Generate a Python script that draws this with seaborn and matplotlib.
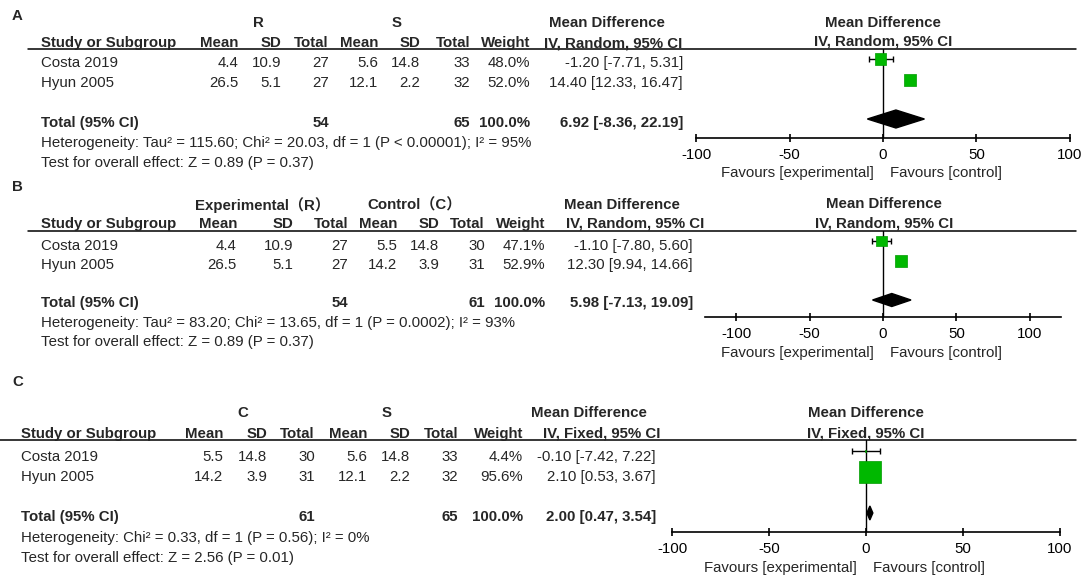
import matplotlib
matplotlib.use("Agg")
import matplotlib.pyplot as plt
import seaborn as sns

# ---- data ----
studies = ["Costa 2019", "Hyun 2005"]

# A: R vs S, random effects
a_groups = ["R", "S"]
a_exp_mean = [4.4, 26.5]
a_exp_sd = [10.9, 5.1]
a_exp_n = [27, 27]
a_ctl_mean = [5.6, 12.1]
a_ctl_sd = [14.8, 2.2]
a_ctl_n = [33, 32]
a_weight = [48.0, 52.0]
a_md = [-1.20, 14.40]
a_lo = [-7.71, 12.33]
a_hi = [5.31, 16.47]
a_total = [6.92, -8.36, 22.19]
a_method = "IV, Random, 95% CI"
a_het = "Heterogeneity: Tau² = 115.60; Chi² = 20.03, df = 1 (P < 0.00001); I² = 95%"
a_test = "Test for overall effect: Z = 0.89 (P = 0.37)"

# B: Experimental (R) vs Control (C), random effects
b_groups = ["Experimental（R）", "Control（C）"]
b_exp_mean = [4.4, 26.5]
b_exp_sd = [10.9, 5.1]
b_exp_n = [27, 27]
b_ctl_mean = [5.5, 14.2]
b_ctl_sd = [14.8, 3.9]
b_ctl_n = [30, 31]
b_weight = [47.1, 52.9]
b_md = [-1.10, 12.30]
b_lo = [-7.80, 9.94]
b_hi = [5.60, 14.66]
b_total = [5.98, -7.13, 19.09]
b_method = "IV, Random, 95% CI"
b_het = "Heterogeneity: Tau² = 83.20; Chi² = 13.65, df = 1 (P = 0.0002); I² = 93%"
b_test = "Test for overall effect: Z = 0.89 (P = 0.37)"

# C: C vs S, fixed effect
c_groups = ["C", "S"]
c_exp_mean = [5.5, 14.2]
c_exp_sd = [14.8, 3.9]
c_exp_n = [30, 31]
c_ctl_mean = [5.6, 12.1]
c_ctl_sd = [14.8, 2.2]
c_ctl_n = [33, 32]
c_weight = [4.4, 95.6]
c_md = [-0.10, 2.10]
c_lo = [-7.42, 0.53]
c_hi = [7.22, 3.67]
c_total = [2.00, 0.47, 3.54]
c_method = "IV, Fixed, 95% CI"
c_het = "Heterogeneity: Chi² = 0.33, df = 1 (P = 0.56); I² = 0%"
c_test = "Test for overall effect: Z = 2.56 (P = 0.01)"

col_heads = ["Mean", "SD", "Total", "Mean", "SD", "Total", "Weight"]
ticks = [-100, -50, 0, 50, 100]

panels = [
    dict(label="A", groups=a_groups, exp_mean=a_exp_mean, exp_sd=a_exp_sd, exp_n=a_exp_n,
         ctl_mean=a_ctl_mean, ctl_sd=a_ctl_sd, ctl_n=a_ctl_n, weight=a_weight,
         md=a_md, lo=a_lo, hi=a_hi, total=a_total, method=a_method, het=a_het, test=a_test),
    dict(label="B", groups=b_groups, exp_mean=b_exp_mean, exp_sd=b_exp_sd, exp_n=b_exp_n,
         ctl_mean=b_ctl_mean, ctl_sd=b_ctl_sd, ctl_n=b_ctl_n, weight=b_weight,
         md=b_md, lo=b_lo, hi=b_hi, total=b_total, method=b_method, het=b_het, test=b_test),
    dict(label="C", groups=c_groups, exp_mean=c_exp_mean, exp_sd=c_exp_sd, exp_n=c_exp_n,
         ctl_mean=c_ctl_mean, ctl_sd=c_ctl_sd, ctl_n=c_ctl_n, weight=c_weight,
         md=c_md, lo=c_lo, hi=c_hi, total=c_total, method=c_method, het=c_het, test=c_test),
]

# layout in pixels (figure is 1084 x 585)
layouts = [
    dict(label_y=16, group_y=23, group_x=[258, 397], head_y=43, line_y=49, line_x0=28,
         rows_y=[63, 83], total_y=123, het_y=143, test_y=163, name_x=41,
         col_x=[238, 281, 329, 378, 420, 470, 530], md_x=549, iv_x=544, ci_x=683,
         zero=883, scale=1.867, axis_y=138, axis_lim=100, fav_y=173,
         mark_y=[59, 80], dia_y=119, dia_h=9, rhead_x=883, rgroup_y=23, rhead_y=42),
    dict(label_y=187, group_y=205, group_x=[262, 415], head_y=224, line_y=231, line_x0=28,
         rows_y=[246, 265], total_y=303, het_y=323, test_y=342, name_x=41,
         col_x=[237, 293, 348, 397, 439, 485, 545], md_x=564, iv_x=566, ci_x=693,
         zero=883, scale=1.467, axis_y=317, axis_lim=121, fav_y=353,
         mark_y=[241, 261], dia_y=300, dia_h=6.5, rhead_x=884, rgroup_y=204, rhead_y=223),
    dict(label_y=382, group_y=413, group_x=[243, 387], head_y=434, line_y=440, line_x0=0,
         rows_y=[457, 477], total_y=517, het_y=538, test_y=558, name_x=21,
         col_x=[223, 267, 315, 367, 410, 458, 523], md_x=531, iv_x=543, ci_x=656,
         zero=866, scale=1.937, axis_y=532, axis_lim=100, fav_y=568,
         mark_y=[451, 472], dia_y=513, dia_h=7, rhead_x=866, rgroup_y=413, rhead_y=433),
]

sns.set_style("white")
plt.rcParams["font.family"] = ["Liberation Sans", "Noto Sans CJK SC", "DejaVu Sans"]
plt.rcParams["axes.unicode_minus"] = False

W, H = 1084, 585
FS = 10.8
GREEN = "#00b800"

fig = plt.figure(figsize=(W / 100, H / 100), dpi=100)
bg = fig.add_axes([0, 0, 1, 1])
bg.set_xlim(0, W)
bg.set_ylim(H, 0)
bg.axis("off")


def txt(x, y, s, ha="left", bold=False):
    bg.text(x, y, s, ha=ha, va="center", fontsize=FS,
            fontweight="bold" if bold else "normal")


def draw_panel(d, L):
    txt(12, L["label_y"], d["label"], bold=True)
    for gx, g in zip(L["group_x"], d["groups"]):
        txt(gx, L["group_y"], g, ha="center", bold=True)
    txt(L["md_x"], L["group_y"], "Mean Difference", bold=True)

    # column header row
    txt(L["name_x"], L["head_y"], "Study or Subgroup", bold=True)
    for x, h in zip(L["col_x"], col_heads):
        txt(x, L["head_y"], h, ha="right", bold=True)
    txt(L["iv_x"], L["head_y"], d["method"], bold=True)
    bg.plot([L["line_x0"], 1076], [L["line_y"]] * 2, color="black", lw=1.1)

    # study rows
    for i, y in enumerate(L["rows_y"]):
        cells = [f"{d['exp_mean'][i]:.1f}", f"{d['exp_sd'][i]:.1f}", f"{d['exp_n'][i]}",
                 f"{d['ctl_mean'][i]:.1f}", f"{d['ctl_sd'][i]:.1f}", f"{d['ctl_n'][i]}",
                 f"{d['weight'][i]:.1f}%"]
        txt(L["name_x"], y, studies[i])
        for x, c in zip(L["col_x"], cells):
            txt(x, y, c, ha="right")
        txt(L["ci_x"], y, f"{d['md'][i]:.2f} [{d['lo'][i]:.2f}, {d['hi'][i]:.2f}]", ha="right")

    # total row
    est, tlo, thi = d["total"]
    y = L["total_y"]
    txt(L["name_x"], y, "Total (95% CI)", bold=True)
    txt(L["col_x"][2], y, f"{sum(d['exp_n'])}", ha="right", bold=True)
    txt(L["col_x"][5], y, f"{sum(d['ctl_n'])}", ha="right", bold=True)
    txt(L["col_x"][6], y, f"{sum(d['weight']):.1f}%", ha="right", bold=True)
    txt(L["ci_x"], y, f"{est:.2f} [{tlo:.2f}, {thi:.2f}]", ha="right", bold=True)
    txt(L["name_x"], L["het_y"], d["het"])
    txt(L["name_x"], L["test_y"], d["test"])

    # right-hand headers
    txt(L["rhead_x"], L["rgroup_y"], "Mean Difference", ha="center", bold=True)
    txt(L["rhead_x"], L["rhead_y"], d["method"], ha="center", bold=True)
    txt(L["zero"] - 9, L["fav_y"], "Favours [experimental]", ha="right")
    txt(L["zero"] + 7, L["fav_y"], "Favours [control]")

    # forest axes, pixel-aligned with the table
    x0, x1 = 660, 1084
    y0, y1 = L["line_y"], L["axis_y"]
    ax = fig.add_axes([x0 / W, 1 - y1 / H, (x1 - x0) / W, (y1 - y0) / H])
    ax.set_xlim((x0 - L["zero"]) / L["scale"], (x1 - L["zero"]) / L["scale"])
    ax.set_ylim(y1, y0)
    ax.patch.set_visible(False)
    for s in ["top", "left", "right"]:
        ax.spines[s].set_visible(False)
    ax.spines["bottom"].set_bounds(-L["axis_lim"], L["axis_lim"])
    ax.spines["bottom"].set_linewidth(1.2)
    ax.spines["bottom"].set_color("black")
    ax.set_xticks(ticks)
    ax.set_xticklabels([str(t) for t in ticks])
    ax.set_yticks([])
    ax.tick_params(axis="x", direction="inout", length=6, width=1.2, pad=4.5,
                   labelsize=FS, colors="black", bottom=True)
    ax.axvline(0, color="black", lw=1)

    md = d["md"]
    xerr = [[m - l for m, l in zip(md, d["lo"])], [h - m for m, h in zip(md, d["hi"])]]
    ax.errorbar(md, L["mark_y"], xerr=xerr, fmt="none", ecolor="black",
                elinewidth=1, capsize=2.5, capthick=1, zorder=2)
    sizes = [(0.231 * w * 0.72) ** 2 for w in d["weight"]]
    sns.scatterplot(x=md, y=L["mark_y"], s=sizes, marker="s", color=GREEN,
                    edgecolor="#009a00", linewidth=0.5, legend=False, ax=ax, zorder=3)
    dy, dh = L["dia_y"], L["dia_h"]
    ax.fill([tlo, est, thi, est], [dy, dy - dh, dy, dy + dh], color="black", zorder=3)
    ax.set_xlabel("")
    ax.set_ylabel("")


for d, L in zip(panels, layouts):
    draw_panel(d, L)

fig.savefig("out.png", dpi=100)
